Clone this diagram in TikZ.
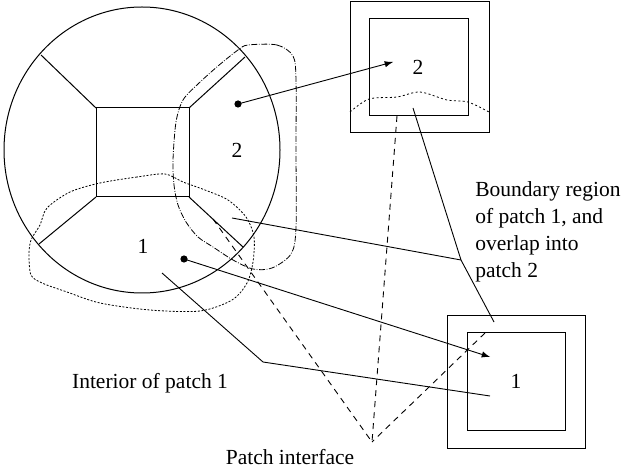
\documentclass[tikz,border=0pt]{standalone}
\usepackage{fontspec}
\setmainfont{Liberation Serif}
\usetikzlibrary{arrows}

\begin{document}
\begin{tikzpicture} [x=0.5pt,y=-0.5pt, every node/.style={font=\fontsize{10.75}{13.5}\selectfont}] %patches and interface
\def \disc{(142,150) ellipse (138 and 143)}
\def \patchone{(165,174) (137,177) (100,183) (70,192) (47,208) (40,225) (31,240) (29,255) (31,275) (42,283) (67,292) (100,303) (150,310) (200,311) (232,300) (247,283) (253,262) (254,237) (246,217) (228,200) (205,190) (183,182)}
\def \patchtwo{(248,45) (277,45) (293,56) (296,80) (296,150) (296,228) (291,254) (272,268) (253,269) (233,260) (213,247) (198,237) (186,222) (178,205) (174,185) (173,160) (176,122) (183,100) (198,84) (218,66) (238,50)}
\tikzset{bline/.style={line width=0.5pt}, lead/.style={line width=0.45pt}, iface/.style={line width=0.45pt, dash pattern=on 3pt off 2.5pt}}

\useasboundingbox (0,0) rectangle (626,475);

	%corners of the inner square and where the spokes meet the circle
\coordinate (sqtl) at (96,108);
\coordinate (sqtr) at (189,108);
\coordinate (sqbl) at (96,197);
\coordinate (sqbr) at (189,197);
\coordinate (rimtl) at (41,55);
\coordinate (rimtr) at (245,57);
\coordinate (rimbl) at (39,244);
\coordinate (rimbr) at (243,247);
	%end of coordinate code

\draw [bline] \disc;
\draw [bline] (sqtl) rectangle (sqbr);
\draw [bline] (sqtl) -- (rimtl);
\draw [bline] (sqtr) -- (rimtr);
\draw [bline] (sqbl) -- (rimbl);
\draw [bline] (sqbr) -- (rimbr);

	%overlapping patches
\draw [line width=0.4pt, dash pattern=on 1pt off 0.8pt] plot [smooth cycle] coordinates {\patchone};
\draw [line width=0.4pt, dash pattern=on 3pt off 0.8pt on 0.4pt off 0.8pt] plot [smooth cycle] coordinates {\patchtwo};

\node (lbltwo) at (237,150) {2};
\node (lblone) at (143,246) {1};
\fill (238,104) circle (3.6) coordinate (dottwo);
\fill (184,259) circle (3.6) coordinate (dotone);

	%patch 2 on its own
\draw [bline] (350,2) rectangle (489,133);
\draw [bline] (369,19) rectangle (468,116);
\draw [line width=0.4pt, dash pattern=on 1pt off 1.2pt] plot [smooth] coordinates {(350,112) (369,99) (397,97) (420,92) (447,100) (468,102) (489,112)};
\node (boxtwo) at (418,67) {2};
\coordinate (tiptwo) at (393,62);

	%patch 1 on its own
\draw [bline] (447,316) rectangle (585,448);
\draw [bline] (467,333) rectangle (565,430);
\node (boxone) at (516,381) {1};
\coordinate (tipone) at (490,357);

\draw [lead, -latex] (dottwo) -- (tiptwo);
\draw [lead, -latex] (dotone) -- (tipone);

	%leader lines for the labels
\node [anchor=north west, align=left, inner sep=0pt] (bndtext) at (475,181) {Boundary region\\of patch 1, and\\overlap into\\patch 2};
\coordinate (bndknee) at (461,260);
\draw [lead] (232,218) -- (bndknee);
\draw [lead] (413,108) -- (bndknee) -- (494,322);

\node (inttext) at (150,383) {Interior of patch 1};
\coordinate (intknee) at (263,362);
\draw [lead] (162,273) -- (intknee) -- (490,396);

	%patch interface
\node (ifctext) at (290,457) {Patch interface};
\coordinate (ifcapex) at (372,442);
\draw [iface] (213,219) -- (ifcapex);
\draw [iface] (397,116) -- (ifcapex);
\draw [iface] (485,333) -- (ifcapex);

\end{tikzpicture}
\end{document}
